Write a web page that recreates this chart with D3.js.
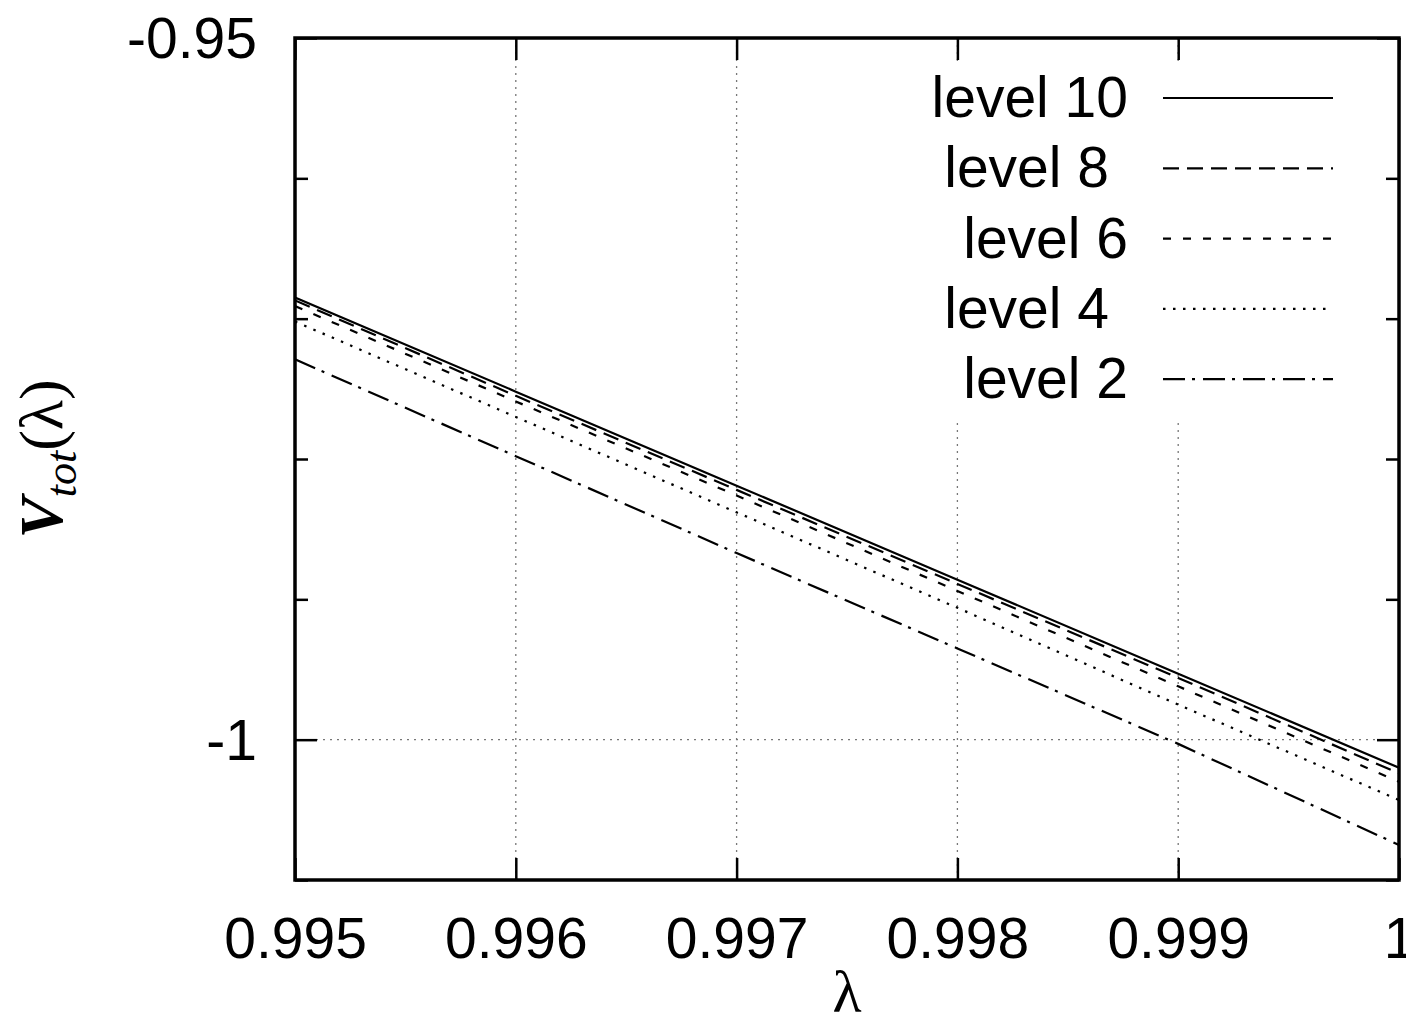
<!DOCTYPE html>
<html>
<head>
<meta charset="utf-8">
<script src="https://cdn.jsdelivr.net/npm/d3@7"></script>
<style>
    body { margin: 0; background: #fff; }
    svg { display: block; }
    text { font-family: "Liberation Sans", Arial, sans-serif; fill: #000; }
</style>
</head>
<body>
<svg></svg>
<script>
var lambdas = [0.995, 0.996, 0.997, 0.998, 0.999, 1.0];

var level10 = [-0.9685, -0.9752, -0.9819, -0.9886, -0.9953, -1.0020];
var level8  = [-0.9687, -0.9755, -0.9822, -0.9889, -0.9956, -1.0024];
var level6  = [-0.9691, -0.9759, -0.9826, -0.9894, -0.9962, -1.0030];
var level4  = [-0.9702, -0.9770, -0.9838, -0.9906, -0.9975, -1.0043];
var level2  = [-0.9729, -0.9798, -0.9867, -0.9935, -1.0003, -1.0075];

var seriesNames = ["level 10", "level 8", "level 6", "level 4", "level 2"];
var seriesValues = [level10, level8, level6, level4, level2];

var xTicks = [0.995, 0.996, 0.997, 0.998, 0.999, 1.0];
var xTickLabels = ["0.995", "0.996", "0.997", "0.998", "0.999", "1"];
var yMajorTicks = [-0.95, -1.0];
var yMajorLabels = ["-0.95", "-1"];
var yMinorTicks = [-0.96, -0.97, -0.98, -0.99, -1.01];

// dash styles for each level (gnuplot style)
var dashes = ["none", "16,8", "8,12", "2.5,7.5", "22,7,3,8"];

var width = 1406, height = 1025;
// plot box ("top" is taken by window.top, so use other names)
var pLeft = 295, pRight = 1399, pTop = 38, pBottom = 880;

var svg = d3.select("svg")
    .attr("width", width)
    .attr("height", height);

var x = d3.scaleLinear().domain([0.995, 1.0]).range([pLeft, pRight]);
var y = d3.scaleLinear().domain([-1.01, -0.95]).range([pBottom, pTop]);

svg.append("defs").append("clipPath")
    .attr("id", "plotclip")
    .append("rect")
    .attr("x", pLeft).attr("y", pTop)
    .attr("width", pRight - pLeft).attr("height", pBottom - pTop);

// grid
var gGrid = svg.append("g")
    .attr("stroke", "#777")
    .attr("stroke-width", 1.3)
    .attr("stroke-dasharray", "2,5");

gGrid.selectAll(".vgrid")
    .data(xTicks.slice(1, -1))
    .enter().append("line")
    .attr("x1", function (d) { return x(d); })
    .attr("x2", function (d) { return x(d); })
    .attr("y1", pTop)
    .attr("y2", pBottom);

gGrid.selectAll(".hgrid")
    .data(yMajorTicks.slice(1))
    .enter().append("line")
    .attr("x1", pLeft)
    .attr("x2", pRight)
    .attr("y1", function (d) { return y(d); })
    .attr("y2", function (d) { return y(d); });

// curves
var line = d3.line()
    .x(function (d, i) { return x(lambdas[i]); })
    .y(function (d) { return y(d); });

svg.append("g")
    .attr("clip-path", "url(#plotclip)")
    .selectAll("path")
    .data(seriesValues)
    .enter().append("path")
    .attr("d", line)
    .attr("fill", "none")
    .attr("stroke", "#000")
    .attr("stroke-width", 2.2)
    .attr("stroke-dasharray", function (d, i) { return dashes[i]; });

// key, opaque so grid lines are hidden behind it
var keyTop = 98, keyStep = 70.3;
var keyTextRight = [1128, 1109, 1128, 1109, 1128];

var gKey = svg.append("g");
gKey.append("rect")
    .attr("x", 915).attr("y", 62)
    .attr("width", 430).attr("height", 356)
    .attr("fill", "#fff");

var keyRow = gKey.selectAll(".key")
    .data(seriesNames)
    .enter().append("g")
    .attr("transform", function (d, i) { return "translate(0," + (keyTop + i * keyStep) + ")"; });

keyRow.append("text")
    .attr("x", function (d, i) { return keyTextRight[i]; })
    .attr("y", 19)
    .attr("text-anchor", "end")
    .style("font-size", "57px")
    .text(function (d) { return d; });

keyRow.append("line")
    .attr("x1", 1163).attr("x2", 1333)
    .attr("y1", 0).attr("y2", 0)
    .attr("stroke", "#000")
    .attr("stroke-width", 2.2)
    .attr("stroke-dasharray", function (d, i) { return dashes[i]; });

// axes with ticks mirrored on the opposite sides
var axisW = 3.5;

svg.append("g")
    .attr("class", "axis")
    .attr("transform", "translate(0," + pBottom + ")")
    .call(d3.axisBottom(x).tickValues(xTicks).tickSizeInner(-22).tickSizeOuter(0)
        .tickFormat(function (d, i) { return xTickLabels[i]; }))
    .call(function (g) {
        g.selectAll("text").attr("y", 78).attr("dy", 0).style("font-size", "57px");
    });

svg.append("g")
    .attr("class", "axis")
    .attr("transform", "translate(0," + pTop + ")")
    .call(d3.axisTop(x).tickValues(xTicks).tickSizeInner(-22).tickSizeOuter(0).tickFormat(""));

svg.append("g")
    .attr("class", "axis")
    .attr("transform", "translate(" + pLeft + ",0)")
    .call(d3.axisLeft(y).tickValues(yMajorTicks).tickSizeInner(-22).tickSizeOuter(0)
        .tickFormat(function (d, i) { return yMajorLabels[i]; }))
    .call(function (g) {
        g.selectAll("text").attr("x", -38).attr("dy", "0.34em").style("font-size", "57px");
    });

svg.append("g")
    .attr("class", "axis")
    .attr("transform", "translate(" + pLeft + ",0)")
    .call(d3.axisLeft(y).tickValues(yMinorTicks).tickSizeInner(-13).tickSizeOuter(0).tickFormat(""));

svg.append("g")
    .attr("class", "axis")
    .attr("transform", "translate(" + pRight + ",0)")
    .call(d3.axisRight(y).tickValues(yMajorTicks).tickSizeInner(-22).tickSizeOuter(0).tickFormat(""));

svg.append("g")
    .attr("class", "axis")
    .attr("transform", "translate(" + pRight + ",0)")
    .call(d3.axisRight(y).tickValues(yMinorTicks).tickSizeInner(-13).tickSizeOuter(0).tickFormat(""));

svg.selectAll(".axis .domain").remove();
svg.selectAll(".axis line")
    .attr("stroke", "#000")
    .attr("stroke-width", 2.5);
svg.selectAll(".axis text")
    .attr("fill", "#000")
    .style("font-family", "'Liberation Sans', Arial, sans-serif");

// border
svg.append("rect")
    .attr("x", pLeft).attr("y", pTop)
    .attr("width", pRight - pLeft).attr("height", pBottom - pTop)
    .attr("fill", "none")
    .attr("stroke", "#000")
    .attr("stroke-width", axisW);

// axis titles
svg.append("text")
    .attr("x", (pLeft + pRight) / 2)
    .attr("y", 1012)
    .attr("text-anchor", "middle")
    .style("font-family", "'Liberation Serif', 'DejaVu Serif', serif")
    .style("font-size", "60px")
    .text("λ");

var yTitle = svg.append("text")
    .attr("transform", "translate(62," + ((pTop + pBottom) / 2) + ") rotate(-90)")
    .attr("text-anchor", "middle")
    .style("font-family", "'Liberation Serif', 'DejaVu Serif', serif")
    .style("font-size", "62px");

yTitle.append("tspan").style("font-style", "italic").style("font-weight", "bold").text("V");
yTitle.append("tspan").style("font-style", "italic").style("font-size", "44px").attr("dy", 14).text("tot");
yTitle.append("tspan").attr("dy", -14).text("(λ)");
</script>
</body>
</html>
